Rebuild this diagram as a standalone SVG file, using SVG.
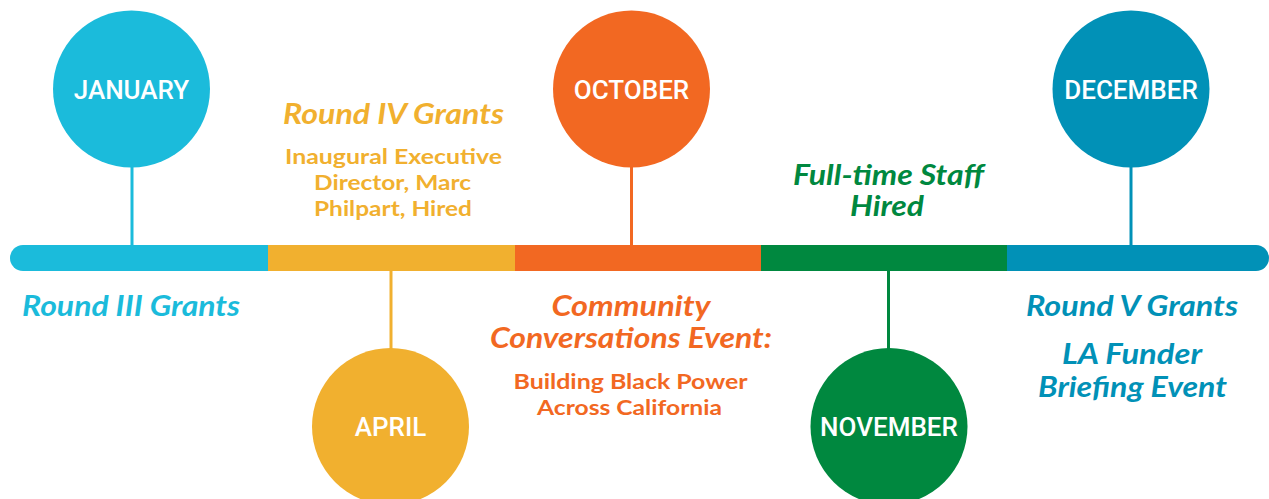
<svg xmlns="http://www.w3.org/2000/svg" width="1269" height="499" viewBox="0 0 1269 499">
<style>
.month{font-family:Roboto,"Liberation Sans",sans-serif;font-weight:500;font-size:26px;fill:#fff;text-anchor:middle}
.head{font-family:Lato,"Open Sans",sans-serif;font-weight:700;font-style:italic;font-size:28px;text-anchor:middle}
.sub{font-family:Lato,"Open Sans",sans-serif;font-weight:700;font-size:21px;text-anchor:middle}
.cyan{fill:#1BBBDB}.yel{fill:#F1B02F}.org{fill:#F26822}.grn{fill:#00883F}.blu{fill:#0191B7}
.ln{stroke-width:3}
</style>
<g id="timeline-bar">
<rect x="10" y="245" width="280" height="26" rx="13" class="cyan"/>
<rect x="268" y="245" width="247" height="26" class="yel"/>
<rect x="515" y="245" width="246" height="26" class="org"/>
<rect x="1000" y="245" width="269" height="26" rx="13" class="blu"/>
<rect x="1007" y="245" width="30" height="26" class="blu"/>
<rect x="761" y="245" width="246" height="26" class="grn"/>
</g>
<g id="connectors">
<line x1="132" y1="166" x2="132" y2="246" stroke="#1BBBDB" class="ln"/>
<line x1="391" y1="270" x2="391" y2="350" stroke="#F1B02F" class="ln"/>
<line x1="631.5" y1="166" x2="631.5" y2="246" stroke="#F26822" class="ln"/>
<line x1="888.5" y1="270" x2="888.5" y2="350" stroke="#00883F" class="ln"/>
<line x1="1131" y1="166" x2="1131" y2="246" stroke="#0191B7" class="ln"/>
</g>
<g id="january">
<circle cx="131.5" cy="89" r="78.5" class="cyan"/>
<text x="131.5" y="99" class="month">JANUARY</text>
<text x="131" y="316" class="head cyan" textLength="218" lengthAdjust="spacingAndGlyphs">Round III Grants</text>
</g>
<g id="april">
<circle cx="390.5" cy="426.5" r="78.5" class="yel"/>
<text x="390.5" y="436" class="month">APRIL</text>
<text x="393.5" y="124" class="head yel" textLength="221" lengthAdjust="spacingAndGlyphs">Round IV Grants</text>
<text x="393.5" y="164" class="sub yel" textLength="217" lengthAdjust="spacingAndGlyphs">Inaugural Executive</text>
<text x="392.5" y="190" class="sub yel" textLength="157" lengthAdjust="spacingAndGlyphs">Director, Marc</text>
<text x="393" y="216" class="sub yel" textLength="158" lengthAdjust="spacingAndGlyphs">Philpart, Hired</text>
</g>
<g id="october">
<circle cx="631.5" cy="89" r="78.5" class="org"/>
<text x="631.5" y="99" class="month">OCTOBER</text>
<text x="631" y="316" class="head org" textLength="159" lengthAdjust="spacingAndGlyphs">Community</text>
<text x="631" y="348" class="head org" textLength="282" lengthAdjust="spacingAndGlyphs">Conversations Event:</text>
<text x="630.5" y="389" class="sub org" textLength="234" lengthAdjust="spacingAndGlyphs">Building Black Power</text>
<text x="629.5" y="415" class="sub org" textLength="185" lengthAdjust="spacingAndGlyphs">Across California</text>
</g>
<g id="november">
<circle cx="889" cy="426.5" r="78.5" class="grn"/>
<text x="889" y="436" class="month">NOVEMBER</text>
<text x="888.5" y="185" class="head grn" textLength="191" lengthAdjust="spacingAndGlyphs">Full-time Staff</text>
<text x="887" y="216" class="head grn" textLength="74" lengthAdjust="spacingAndGlyphs">Hired</text>
</g>
<g id="december">
<circle cx="1131" cy="89" r="78.5" class="blu"/>
<text x="1131" y="99" class="month">DECEMBER</text>
<text x="1132" y="316" class="head blu" textLength="212" lengthAdjust="spacingAndGlyphs">Round V Grants</text>
<text x="1132" y="364" class="head blu" textLength="140" lengthAdjust="spacingAndGlyphs">LA Funder</text>
<text x="1132.5" y="397" class="head blu" textLength="189" lengthAdjust="spacingAndGlyphs">Briefing Event</text>
</g>
</svg>
